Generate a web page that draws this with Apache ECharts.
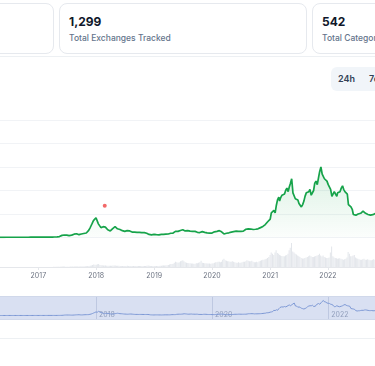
<!DOCTYPE html>
<html><head><meta charset="utf-8">
<script src="https://cdn.jsdelivr.net/npm/echarts@6/dist/echarts.min.js"></script>
<style>
html,body{margin:0;padding:0;width:375px;height:366px;overflow:hidden;background:#fff;font-family:Inter,"Noto Sans",sans-serif;}
.card{position:absolute;top:3px;height:51px;border:1px solid #e6e9ee;border-radius:8px;background:#fff;box-sizing:border-box;}
.num{position:absolute;left:9px;top:10px;font-size:12px;font-weight:700;color:#0f172a;}
.lbl{position:absolute;left:9px;top:29px;font-size:8.5px;font-weight:500;color:#64748b;white-space:nowrap;}
#panel{position:absolute;left:-10px;top:56px;width:400px;height:283px;border:1px solid #edf0f3;border-radius:8px;box-sizing:border-box;}
#btns{position:absolute;left:331px;top:67px;width:80px;height:24px;background:#f1f5f9;border-radius:6px;}
.btn{position:absolute;top:6px;font-size:9px;font-weight:600;color:#334155;}
#chart{position:absolute;left:-40px;top:100px;width:520px;height:240px;}
</style></head>
<body>
<div class="card" style="left:-200px;width:254px;"></div>
<div class="card" style="left:59px;width:248px;"><div class="num">1,299</div><div class="lbl">Total Exchanges Tracked</div></div>
<div class="card" style="left:312px;width:250px;"><div class="num">542</div><div class="lbl">Total Categories</div></div>
<div id="panel"></div>
<div id="btns"><span class="btn" style="left:7px;">24h</span><span class="btn" style="left:38px;">7d</span></div>
<div id="chart"></div>
<script>
// market cap in trillions USD, sampled on the 1st, 8th, 16th and 24th of each month
const price2016 = [0.007,0.007,0.0068,0.0066, 0.0064,0.0062,0.006,0.006, 0.0062,0.0065,0.0066,0.0067, 0.0068,0.0069,0.007,0.0072, 0.0073,0.0075,0.0076,0.0078, 0.008,0.0095,0.011,0.012, 0.011,0.0105,0.011,0.0105, 0.0098,0.0095,0.0096,0.0097, 0.0098,0.0099,0.01,0.01, 0.0102,0.0105,0.011,0.0112, 0.0115,0.012,0.0122,0.0125, 0.0125,0.013,0.0135,0.0145];
const price2017 = [0.0165,0.015,0.0155,0.016, 0.0165,0.017,0.0175,0.0185, 0.02,0.021,0.02,0.019, 0.02,0.021,0.022,0.026, 0.028,0.033,0.04,0.055, 0.09,0.1,0.105,0.1, 0.1,0.09,0.08,0.085, 0.1,0.12,0.14,0.145, 0.16,0.13,0.12,0.13, 0.15,0.16,0.17,0.175, 0.19,0.24,0.3,0.4, 0.5,0.6,0.72,0.65];
const price2018 = [0.84,0.78,0.58,0.55, 0.42,0.36,0.46,0.43, 0.44,0.38,0.33,0.30, 0.28,0.33,0.38,0.42, 0.46,0.42,0.37,0.36, 0.34,0.31,0.29,0.28, 0.26,0.27,0.29,0.30, 0.28,0.25,0.23,0.22, 0.23,0.21,0.22,0.22, 0.22,0.21,0.21,0.21, 0.21,0.21,0.18,0.14, 0.13,0.12,0.11,0.13];
const price2019 = [0.13,0.13,0.12,0.12, 0.11,0.12,0.13,0.14, 0.13,0.135,0.14,0.14, 0.15,0.18,0.18,0.18, 0.19,0.24,0.26,0.27, 0.26,0.28,0.30,0.35, 0.33,0.31,0.28,0.27, 0.29,0.30,0.27,0.27, 0.26,0.27,0.26,0.22, 0.22,0.22,0.21,0.24, 0.25,0.24,0.22,0.20, 0.20,0.20,0.19,0.19];
const price2020 = [0.19,0.21,0.24,0.23, 0.26,0.28,0.29,0.27, 0.24,0.22,0.15,0.17, 0.18,0.19,0.20,0.21, 0.23,0.25,0.25,0.25, 0.27,0.27,0.26,0.26, 0.26,0.27,0.27,0.30, 0.35,0.36,0.37,0.37, 0.36,0.33,0.34,0.34, 0.35,0.36,0.37,0.39, 0.42,0.45,0.47,0.55, 0.55,0.58,0.67,0.72];
const price2021 = [0.78,1.05,0.98,1.15, 1.05,1.35,1.60,1.72, 1.55,1.70,1.80,1.72, 1.85,2.00,2.10,1.95, 2.15,2.30,2.50,1.90, 1.88,1.65,1.72,1.60, 1.45,1.38,1.30,1.40, 1.55,1.75,1.90,1.95, 1.95,2.05,1.80,1.85, 2.00,2.30,2.40,2.25, 2.55,2.80,3.00,2.70, 2.70,2.50,2.45,2.40];
const price2022 = [2.25,2.20,2.05,1.75, 1.80,1.95,1.85,1.75, 1.90,1.85,1.95,2.10, 2.20,2.05,1.95,1.90, 1.85,1.40,1.35,1.30, 1.20,0.98,0.90,0.95, 0.95,1.00,1.05,1.03, 1.10,1.12,1.08,1.03, 0.98,0.98,1.00,0.95, 0.96,0.97,1.00,1.02, 1.05,0.85,0.83,0.82, 0.85,0.84,0.82,0.80];
const price2023 = [0.80,0.85,1.00,1.05, 1.05,1.05,1.10,1.05, 1.00,0.95,1.15,1.20, 1.20,1.25,1.28,1.22, 1.20,1.15,1.15,1.13, 1.10,1.05,1.10,1.20, 1.20,1.20,1.20,1.18, 1.15,1.15,1.05,1.05, 1.05,1.05,1.06,1.07, 1.08,1.08,1.10,1.25, 1.35,1.40,1.45,1.45, 1.55,1.60,1.62,1.65];
// trading volume (relative units)
const vol2016 = [0.2,0.2,0.2,0.2, 0.2,0.2,0.2,0.2, 0.2,0.2,0.2,0.2, 0.2,0.2,0.2,0.2, 0.2,0.2,0.2,0.2, 0.2,0.2,0.2,0.2, 0.2,0.2,0.2,0.2, 0.2,0.2,0.2,0.2, 0.2,0.2,0.2,0.2, 0.2,0.2,0.2,0.2, 0.3,0.3,0.3,0.3, 0.3,0.3,0.3,0.3];
const vol2017 = [0.3,0.3,0.3,0.3, 0.3,0.3,0.4,0.4, 0.4,0.4,0.5,0.5, 0.5,0.6,0.6,0.8, 0.9,1.2,1.5,1.8, 2,1.8,1.6,1.5, 1.4,1.3,1.5,1.8, 1.6,1.8,2.2,2.5, 2.8,2,2,2.2, 2.4,2.6,2.8,3, 3.2,4,4.5,5, 6,8,10,9];
const vol2018 = [9,11,12,8, 7,7,6,6, 6,5,5,5, 5,5,6,6, 6,5,5,5, 4,4,4,4, 4,4,5,4, 4,4,4,4, 4,4,4,4, 4,4,4,4, 4,4,5,6, 5,4,4,4];
const vol2019 = [4,4,4,4, 4,5,5,6, 6,6,7,7, 8,10,12,12, 14,18,22,20, 18,20,24,26, 28,24,20,18, 17,16,16,15, 15,14,14,16, 16,18,20,26, 18,17,16,16, 15,15,15,14];
const vol2020 = [15,16,18,20, 20,22,22,20, 22,30,34,28, 26,24,24,22, 22,24,22,20, 18,18,20,18, 18,20,22,22, 24,28,26,24, 24,26,22,20, 20,22,20,24, 26,28,30,30, 32,34,38,42];
const vol2021 = [50,60,55,50, 60,70,58,55, 50,48,46,45, 45,48,50,55, 70,80,100,65, 60,55,52,48, 45,42,38,35, 35,38,40,42, 45,48,45,42, 42,44,46,48, 50,55,48,44, 48,42,40,38];
const vol2022 = [38,40,60,85, 45,40,38,36, 34,35,36,34, 32,30,32,34, 40,62,55,45, 45,48,50,40, 36,34,32,30, 30,32,34,30, 30,32,30,28, 28,30,32,30, 45,55,40,32, 28,26,25,24];
const vol2023 = [24,26,30,32, 34,32,30,35, 40,42,36,32, 30,28,28,26, 26,24,22,22, 22,24,22,20, 20,26,22,20, 20,18,18,16, 16,16,18,18, 20,22,26,28, 30,30,32,34, 36,38,36,34];
const years = [2016,2017,2018,2019,2020,2021,2022,2023];
const sampleDays = [1, 8, 16, 24];
const eventPoint = ['2018-02-25', 1.35];

const priceValues = [].concat(price2016,price2017,price2018,price2019,price2020,price2021,price2022,price2023);
const volValues = [].concat(vol2016,vol2017,vol2018,vol2019,vol2020,vol2021,vol2022,vol2023);
const pad = n => (n < 10 ? '0' : '') + n;
const dates = [];
years.forEach(y => { for (let m = 1; m <= 12; m++) sampleDays.forEach(d => dates.push(y + '-' + pad(m) + '-' + pad(d))); });
const priceData = dates.map((d, i) => [d, priceValues[i]]);
const volData = dates.map((d, i) => [d, volValues[i]]);
const xMin = dates[0], xMax = dates[dates.length - 1];
const YEAR = 365.25 * 86400000;

const chart = echarts.init(document.getElementById('chart'), null, {renderer: 'canvas'});
const L = 19.8, R = 37;
chart.setOption({
  animation: false,
  grid: [
    {left: L, right: R, top: 20, height: 117.5},
    {left: L, right: R, top: 140, height: 27},
    {left: L, right: R, top: 196, height: 24}
  ],
  xAxis: [
    {type: 'time', gridIndex: 0, min: xMin, max: xMax, axisLabel: {show: false}, axisLine: {show: false}, axisTick: {show: false}, splitLine: {show: false}},
    {type: 'time', gridIndex: 1, min: xMin, max: xMax, minInterval: YEAR, maxInterval: YEAR,
     axisLine: {show: true, lineStyle: {color: '#e5e7eb'}},
     axisTick: {show: true, length: 3, lineStyle: {color: '#e5e7eb'}},
     axisLabel: {formatter: '{yyyy}', color: '#6b7280', fontSize: 7, margin: 5, fontFamily: 'Inter'},
     splitLine: {show: false}},
    {type: 'time', gridIndex: 2, min: xMin, max: xMax, minInterval: 2 * YEAR, maxInterval: 2 * YEAR,
     axisLine: {show: false}, axisTick: {show: false},
     axisLabel: {inside: true, formatter: '{yyyy}', color: '#9ea6b5', fontSize: 7, margin: 2, align: 'left', padding: [0, 0, 0, 3], fontFamily: 'Inter'},
     splitLine: {show: true, lineStyle: {color: 'rgba(150,160,190,0.35)', width: 1}}}
  ],
  yAxis: [
    {type: 'value', gridIndex: 0, min: 0, max: 5, interval: 1, axisLabel: {show: false}, axisLine: {show: false}, axisTick: {show: false}, splitLine: {lineStyle: {color: '#f1f3f6'}}},
    {type: 'value', gridIndex: 1, min: 0, max: 112.5, show: false, splitLine: {show: false}},
    {type: 'value', gridIndex: 2, show: false, splitLine: {show: false}}
  ],
  dataZoom: [{type: 'slider', xAxisIndex: [0, 1], left: L, right: R, top: 196, height: 24, start: 0, end: 100,
    brushSelect: false, showDetail: false, borderColor: '#d0d8ea',
    fillerColor: 'rgba(120,145,210,0.28)',
    dataBackground: {lineStyle: {color: '#7f9bd6', width: 1, opacity: 1}, areaStyle: {opacity: 0}},
    selectedDataBackground: {lineStyle: {color: '#7f9bd6', width: 1, opacity: 1}, areaStyle: {opacity: 0}}}],
  series: [
    {type: 'line', xAxisIndex: 0, yAxisIndex: 0, data: priceData, showSymbol: false, z: 3,
     lineStyle: {color: '#16a34a', width: 1.7}, itemStyle: {color: '#16a34a'},
     areaStyle: {color: new echarts.graphic.LinearGradient(0, 0, 0, 1, [{offset: 0, color: 'rgba(22,163,74,0.22)'}, {offset: 1, color: 'rgba(22,163,74,0.02)'}])}},
    {type: 'scatter', xAxisIndex: 0, yAxisIndex: 0, data: [eventPoint], symbolSize: 4, itemStyle: {color: '#ef4444'}, z: 4},
    {type: 'bar', xAxisIndex: 1, yAxisIndex: 1, data: volData, barWidth: 1, itemStyle: {color: '#e3e6eb'}}
  ]
});
</script>
</body></html>
